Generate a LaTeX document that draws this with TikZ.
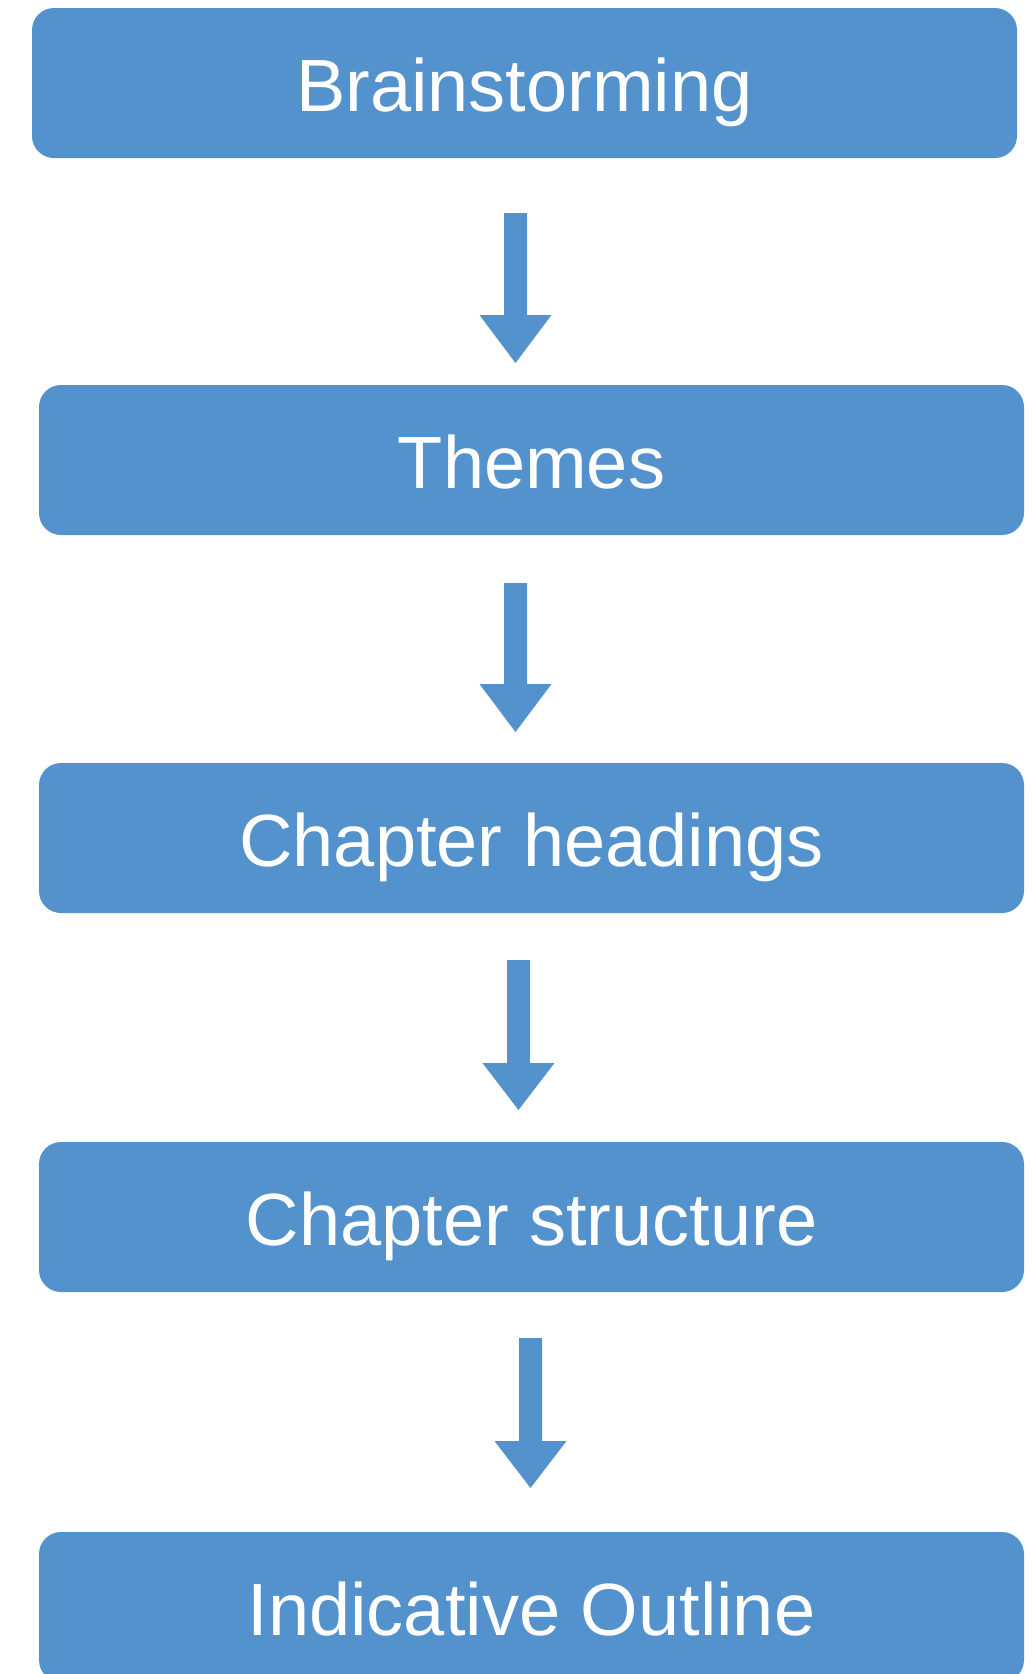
\documentclass[tikz,border=0pt]{standalone}
\usepackage{fontspec}
\setmainfont{Liberation Sans}
\usepackage{xcolor}
\usepackage{tikz}

\definecolor{stepblue}{RGB}{83,146,205}

\begin{document}
\begin{tikzpicture}[x=1pt,y=-1pt,
        stagebox/.style={fill=stepblue, rounded corners=22pt, inner sep=0pt,
            minimum width=985pt, minimum height=150pt,
            text height=56pt, text depth=0pt,
            text=white, font=\fontsize{74}{80}\selectfont}]
        \useasboundingbox (0,0) rectangle (1033,1674);
        \clip (0,0) rectangle (1033,1674);

        \node[stagebox] (brain)   at (524.5,83)   { Brainstorming };
        \node[stagebox] (themes)  at (531.5,460)  { Themes };
        \node[stagebox] (heads)   at (531.5,838)  { Chapter headings };
        \node[stagebox] (struct)  at (531.5,1217) { Chapter structure };
        \node[stagebox] (outline) at (531.5,1607) { Indicative Outline };

        % block arrows: centre x / shaft top / head base / tip
        \foreach \cx/\top/\base/\tip in {515.5/213/315/363,515.5/583/684/732,518.5/960/1063/1110,530.5/1338/1441/1488} {
        \fill[stepblue] (\cx-11.5,\top) -- (\cx+11.5,\top) -- (\cx+11.5,\base) -- (\cx+36,\base)
            -- (\cx,\tip) -- (\cx-36,\base) -- (\cx-11.5,\base) -- cycle;
        }
    \end{tikzpicture}
\end{document}
